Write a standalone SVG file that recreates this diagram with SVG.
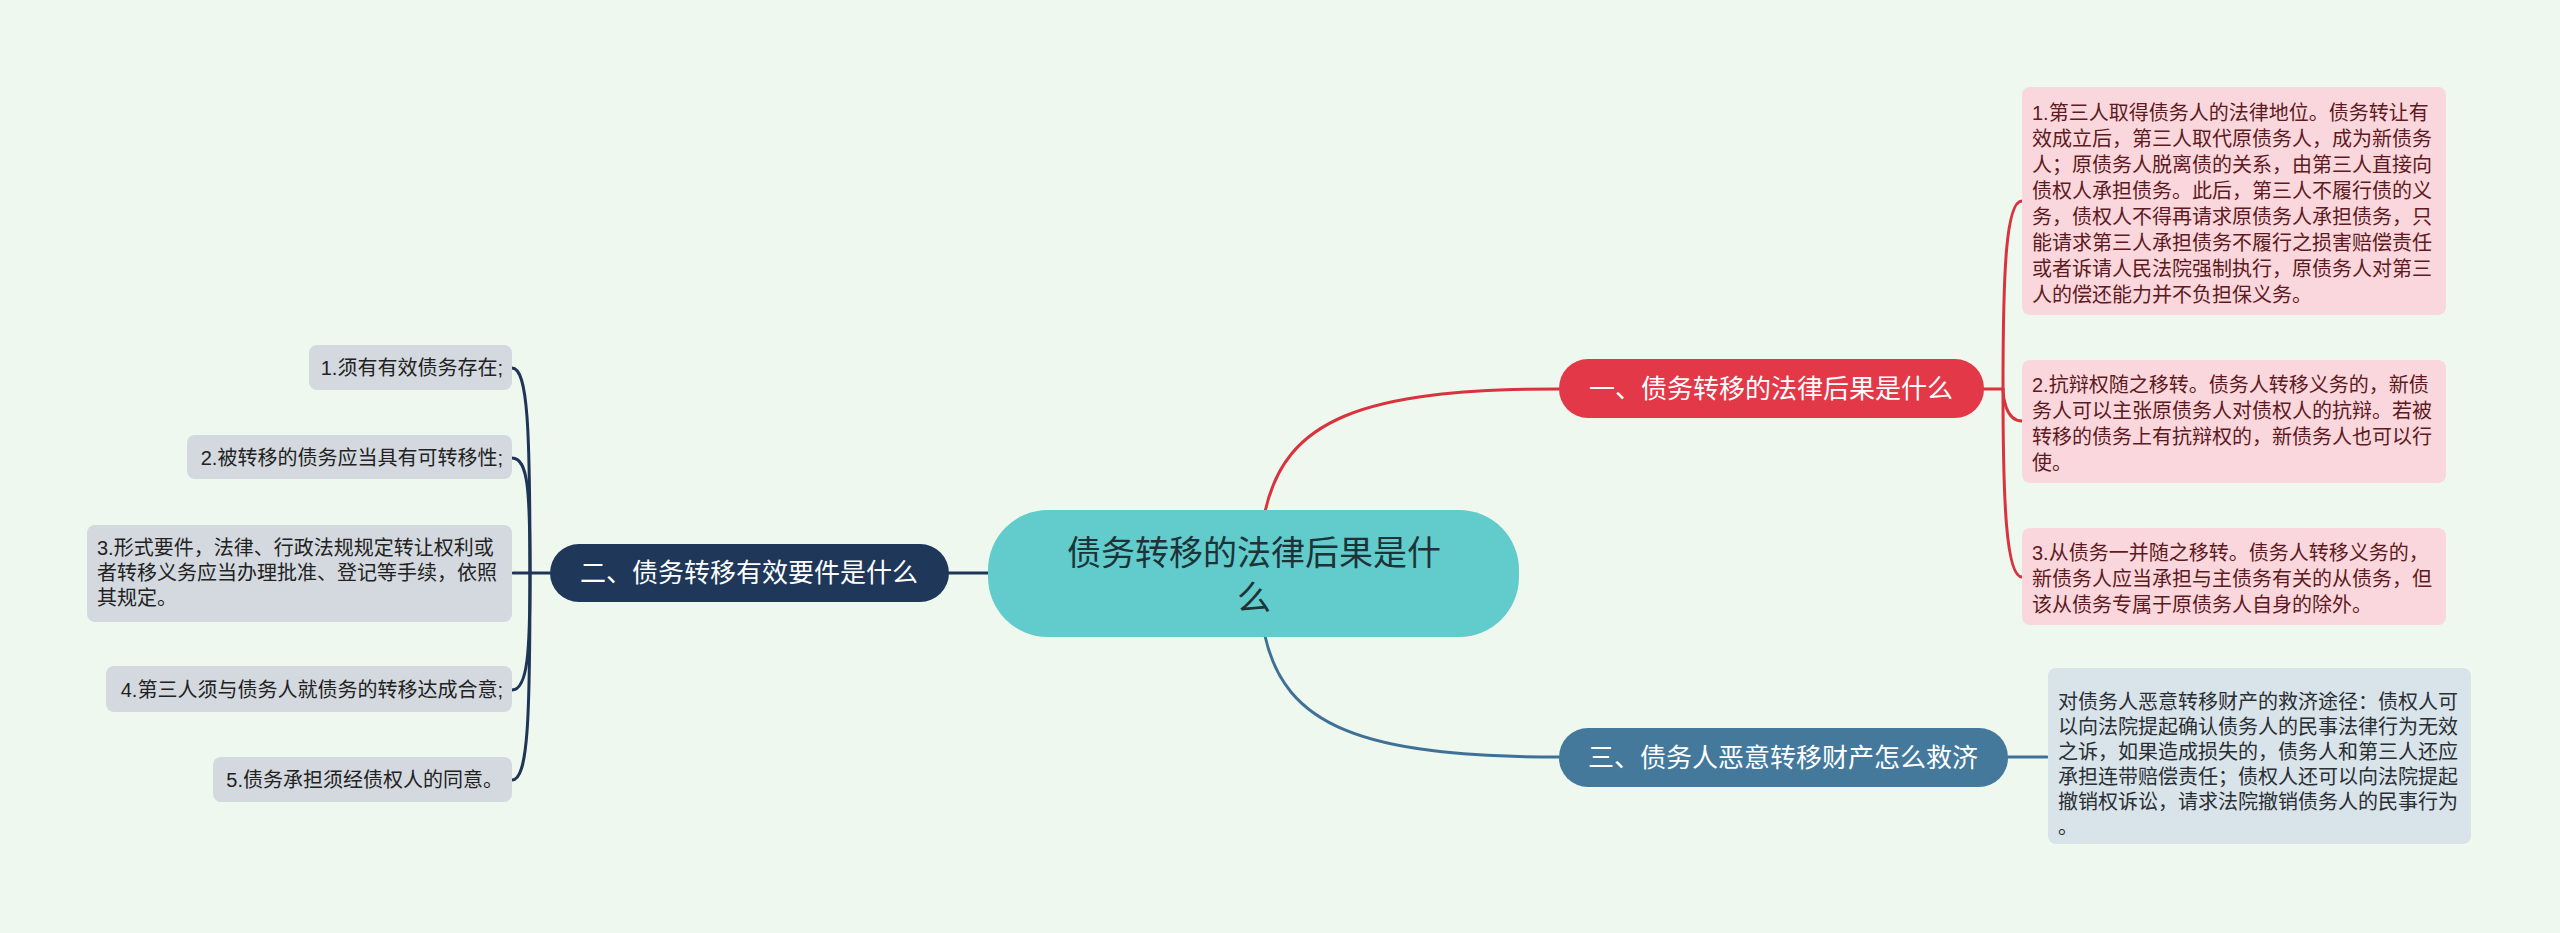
<svg xmlns="http://www.w3.org/2000/svg" width="2560" height="933" viewBox="0 0 2560 933">
<style>
text{font-family:"Liberation Sans","Noto Sans CJK SC",sans-serif}
.c{fill:none;stroke-width:3;stroke-linecap:round}
.red{stroke:#d8333f}.navy{stroke:#1e3557}.blue{stroke:#3f7196}
.t1{font-size:26px;fill:#fff;text-anchor:middle}
.lf{font-size:20px}
.pk{fill:#fad7dc}.pkt{fill:#5e1a22}
.gy{fill:#d4d9df}.gyt{fill:#222}
.bl{fill:#d9e3ea}.blt{fill:#2a2f33}
</style>
<rect width="2560" height="933" fill="#eff8ee"/>
<g id="connectors">
<path class="c red" d="M1265 512 C1285 420 1360 389 1559 389"/>
<path class="c blue" d="M1265 636 C1285 725 1360 757 1559 757"/>
<path class="c navy" d="M988 573 L949 573"/>
<path class="c red" d="M1984 389 L2003 389"/>
<path class="c red" d="M2003 389 C2003 270 2006 201 2022 201"/>
<path class="c red" d="M2003 389 C2003 395 2005 421 2022 421"/>
<path class="c red" d="M2003 389 C2003 500 2006 577 2022 577"/>
<path class="c blue" d="M2008 757 L2047 757"/>
<path class="c navy" d="M550 573 L513 573"/>
<path class="c navy" d="M530 573 C530 430 528 368 512 368"/>
<path class="c navy" d="M530 573 C530 490 528 458 512 458"/>
<path class="c navy" d="M530 573 C530 650 528 690 512 690"/>
<path class="c navy" d="M530 573 C530 720 528 780 512 780"/>
</g>
<g id="center">
<rect x="988" y="510" width="531" height="127" rx="60" fill="#62cbcb"/>
<text x="1254" y="565" font-size="34" fill="#1c3338" text-anchor="middle">债务转移的法律后果是什</text>
<text x="1254" y="610" font-size="34" fill="#1c3338" text-anchor="middle">么</text>
</g>
<g id="n1">
<rect x="1559" y="359" width="425" height="59" rx="29" fill="#e23848"/>
<text class="t1" x="1771" y="398">一、债务转移的法律后果是什么</text>
</g>
<g id="n2">
<rect x="550" y="544" width="399" height="58" rx="29" fill="#1f3859"/>
<text class="t1" x="749" y="582">二、债务转移有效要件是什么</text>
</g>
<g id="n3">
<rect x="1559" y="728" width="449" height="59" rx="29" fill="#44799c"/>
<text class="t1" x="1783" y="767">三、债务人恶意转移财产怎么救济</text>
</g>
<g id="r1">
<rect class="pk" x="2022" y="87" width="424" height="228" rx="8"/>
<text class="lf pkt" x="2032" y="120">
<tspan x="2032" y="120">1.第三人取得债务人的法律地位。债务转让有</tspan>
<tspan x="2032" y="146">效成立后，第三人取代原债务人，成为新债务</tspan>
<tspan x="2032" y="172">人；原债务人脱离债的关系，由第三人直接向</tspan>
<tspan x="2032" y="198">债权人承担债务。此后，第三人不履行债的义</tspan>
<tspan x="2032" y="224">务，债权人不得再请求原债务人承担债务，只</tspan>
<tspan x="2032" y="250">能请求第三人承担债务不履行之损害赔偿责任</tspan>
<tspan x="2032" y="276">或者诉请人民法院强制执行，原债务人对第三</tspan>
<tspan x="2032" y="302">人的偿还能力并不负担保义务。</tspan>
</text>
</g>
<g id="r2">
<rect class="pk" x="2022" y="360" width="424" height="123" rx="8"/>
<text class="lf pkt">
<tspan x="2032" y="392">2.抗辩权随之移转。债务人转移义务的，新债</tspan>
<tspan x="2032" y="418">务人可以主张原债务人对债权人的抗辩。若被</tspan>
<tspan x="2032" y="444">转移的债务上有抗辩权的，新债务人也可以行</tspan>
<tspan x="2032" y="470">使。</tspan>
</text>
</g>
<g id="r3">
<rect class="pk" x="2022" y="528" width="424" height="97" rx="8"/>
<text class="lf pkt">
<tspan x="2032" y="560">3.从债务一并随之移转。债务人转移义务的，</tspan>
<tspan x="2032" y="586">新债务人应当承担与主债务有关的从债务，但</tspan>
<tspan x="2032" y="612">该从债务专属于原债务人自身的除外。</tspan>
</text>
</g>
<g id="b1">
<rect class="bl" x="2048" y="668" width="423" height="176" rx="8"/>
<text class="lf blt">
<tspan x="2058" y="709">对债务人恶意转移财产的救济途径：债权人可</tspan>
<tspan x="2058" y="734">以向法院提起确认债务人的民事法律行为无效</tspan>
<tspan x="2058" y="759">之诉，如果造成损失的，债务人和第三人还应</tspan>
<tspan x="2058" y="784">承担连带赔偿责任；债权人还可以向法院提起</tspan>
<tspan x="2058" y="809">撤销权诉讼，请求法院撤销债务人的民事行为</tspan>
<tspan x="2058" y="834">。</tspan>
</text>
</g>
<g id="l1">
<rect class="gy" x="309" y="345" width="203" height="45" rx="8"/>
<text class="lf gyt" x="503" y="375" text-anchor="end">1.须有有效债务存在;</text>
</g>
<g id="l2">
<rect class="gy" x="187" y="435" width="325" height="44" rx="8"/>
<text class="lf gyt" x="503" y="465" text-anchor="end">2.被转移的债务应当具有可转移性;</text>
</g>
<g id="l3">
<rect class="gy" x="87" y="525" width="425" height="97" rx="8"/>
<text class="lf gyt">
<tspan x="97" y="555">3.形式要件，法律、行政法规规定转让权利或</tspan>
<tspan x="97" y="580">者转移义务应当办理批准、登记等手续，依照</tspan>
<tspan x="97" y="605">其规定。</tspan>
</text>
</g>
<g id="l4">
<rect class="gy" x="106" y="666" width="406" height="46" rx="8"/>
<text class="lf gyt" x="503" y="697" text-anchor="end">4.第三人须与债务人就债务的转移达成合意;</text>
</g>
<g id="l5">
<rect class="gy" x="213" y="757" width="299" height="45" rx="8"/>
<text class="lf gyt" x="503" y="787" text-anchor="end">5.债务承担须经债权人的同意。</text>
</g>
</svg>
